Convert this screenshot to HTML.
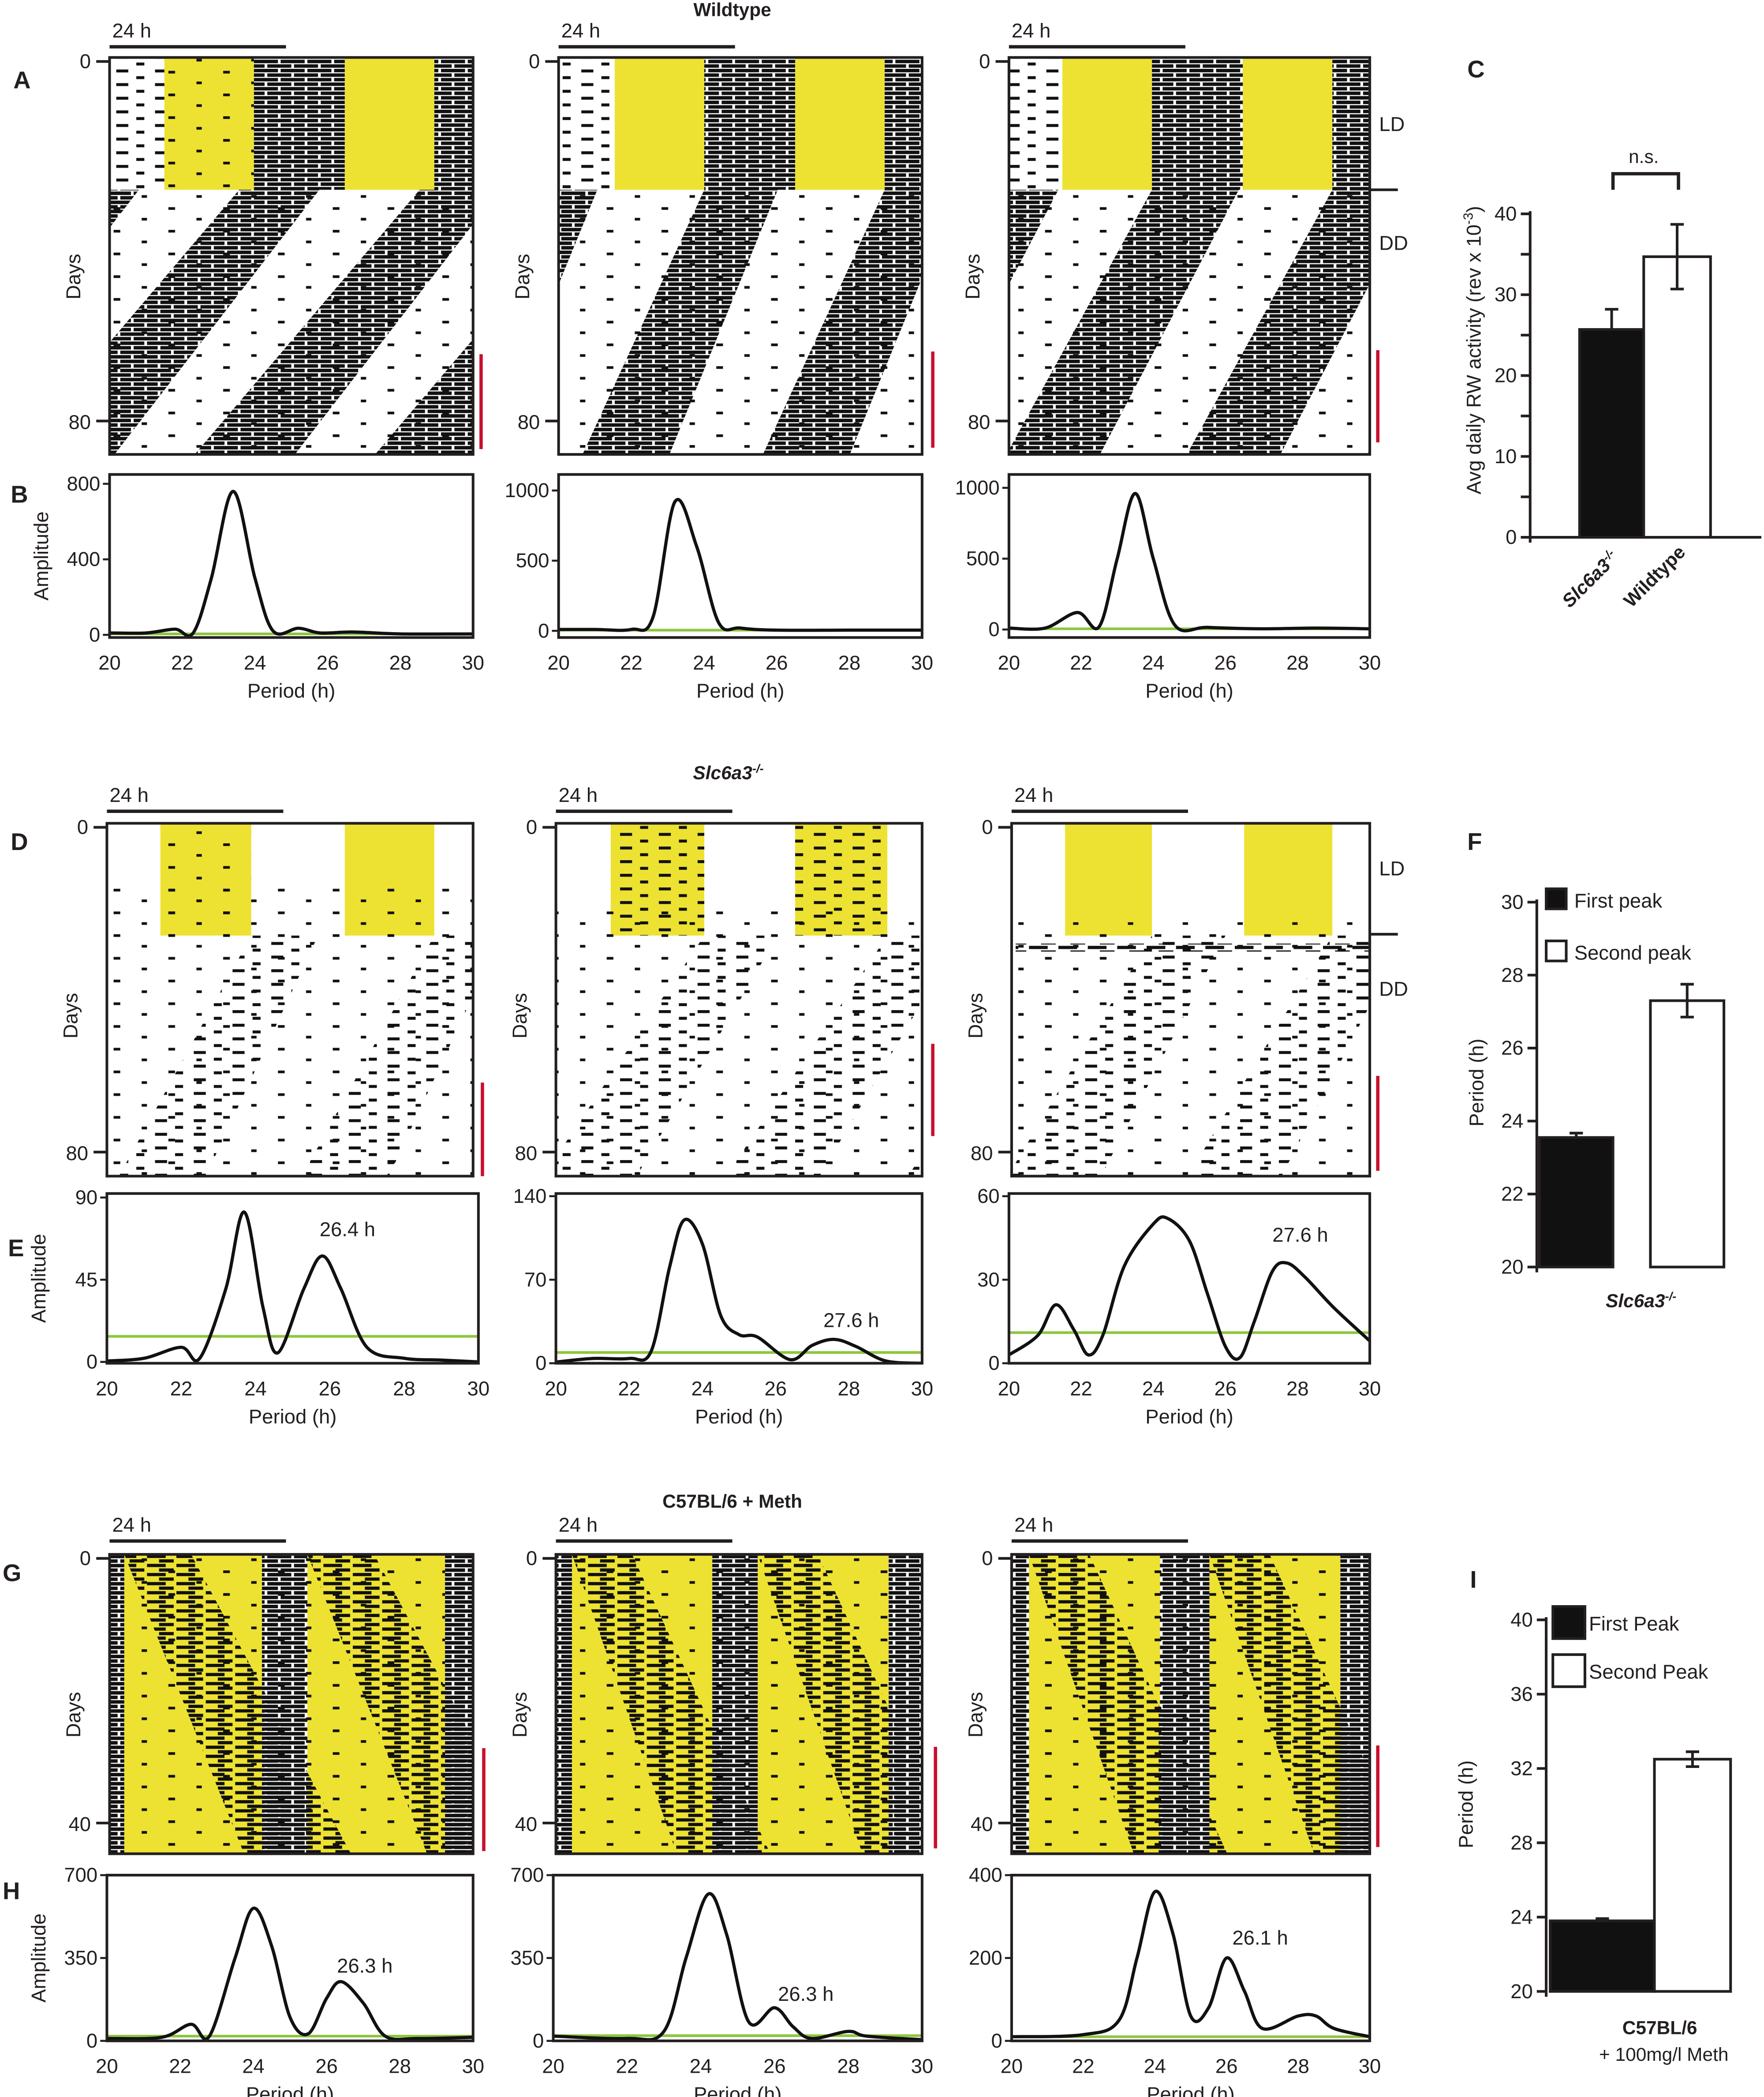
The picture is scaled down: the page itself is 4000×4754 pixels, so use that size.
<!DOCTYPE html>
<html><head><meta charset="utf-8"><style>
html,body{margin:0;padding:0;background:#fff}
svg{display:block}
text{font-family:"Liberation Sans",sans-serif;fill:#231f20}
</style></head><body>
<svg id="fig" xmlns="http://www.w3.org/2000/svg" width="4000" height="4754" viewBox="0 0 1320 1569" preserveAspectRatio="none">
<defs>
<pattern id="dense" patternUnits="userSpaceOnUse" width="20" height="6.8"><rect x="0" y="0.5" width="18" height="2.6" fill="#111"/><rect x="10" y="3.9" width="10" height="2.6" fill="#111"/><rect x="0" y="3.9" width="8" height="2.6" fill="#111"/></pattern>
<pattern id="mid" patternUnits="userSpaceOnUse" width="22" height="6.8"><rect x="0" y="0.5" width="14" height="2.4" fill="#111"/><rect x="9" y="3.9" width="11" height="2.4" fill="#111"/></pattern>
<pattern id="sparse" patternUnits="userSpaceOnUse" width="29" height="10.2"><rect x="0" y="1" width="9" height="2.2" fill="#111"/><rect x="15" y="6" width="6" height="2.2" fill="#111"/></pattern>
<pattern id="speck" patternUnits="userSpaceOnUse" width="41" height="17"><rect x="3" y="2" width="5" height="2" fill="#111"/><rect x="24" y="10" width="4" height="2" fill="#111"/></pattern>
</defs>
<g id="root"></g>
</svg>
<script>
// ---------- periodogram data (period in h, amplitude) ----------
const perB1 = [20,21,21.8,22.3,22.8,23.4,24,24.5,25.2,25.8,26.7,28,30];
const ampB1 = [10,10,30,10,300,760,300,20,35,10,15,5,5];
const perB2 = [20,21,22,22.6,23.2,23.8,24.4,25,26,28,30];
const ampB2 = [10,10,10,100,920,600,60,20,5,5,5];
const perB3 = [20,21,21.9,22.5,23,23.5,24,24.6,25.5,27,28.5,30];
const ampB3 = [10,10,120,20,500,960,500,30,15,5,10,5];
const perE1 = [20,21,22,22.5,23.2,23.7,24.2,24.6,25.3,25.8,26.3,27,28,29,30];
const ampE1 = [0.5,2,8,2,40,82,30,5,40,58,40,8,2,1,0];
const perE2 = [20,21,22,22.6,23.1,23.5,24,24.5,25,25.5,26.4,27,27.6,28.2,29,30];
const ampE2 = [1,4,4,10,80,120,100,40,24,22,3,15,20,14,2,0];
const perE3 = [20,20.8,21.3,21.8,22.2,22.6,23.2,24,24.4,25,25.5,26,26.4,26.8,27.3,27.7,28.2,29,30];
const ampE3 = [3,10,21,12,3,10,35,50,52,44,25,6,2,15,33,36,31,20,8];
const perH1 = [20,21.5,22.3,22.8,23.5,24,24.5,25,25.5,26,26.4,27,27.6,28.5,30];
const ampH1 = [10,15,70,20,350,560,400,100,30,180,250,160,20,10,15];
const perH2 = [20,22,23,23.6,24.2,24.7,25.3,26,26.5,27,28,28.5,30];
const ampH2 = [20,10,40,350,620,450,80,140,60,10,40,20,5];
const perH3 = [20,22,23,23.5,24,24.5,25,25.5,26,26.5,27,28,28.5,29,30];
const ampH3 = [10,15,50,200,360,260,60,80,200,120,30,60,60,30,10];
const sigE = [14,9,11];
const sigB = [5,5,5];
const sigH = [20,22,10];
// ---------- bar chart data ----------
const catC = ["Slc6a3-/-","Wildtype"];
const valC = [25.7,34.7];
const errC = [2.5,4.0];
const ticksC = [0,10,20,30,40];
const valF = [23.55,27.3];
const errF = [0.12,0.45];
const ticksF = [20,22,24,26,28,30];
const valI = [23.8,32.5];
const errI = [0.12,0.4];
const ticksI = [20,24,28,32,36,40];
const xTicksPer = [20,22,24,26,28,30];

const NS="http://www.w3.org/2000/svg";
const root=document.getElementById('root');
function el(tag,attrs,parent){const e=document.createElementNS(NS,tag);for(const k in attrs)e.setAttribute(k,attrs[k]);(parent||root).appendChild(e);return e;}
function txt(x,y,s,size,opts,parent){const t=el('text',Object.assign({x:x,y:y,'font-size':size},opts||{}),parent);t.textContent=s;return t;}
let clipId=0;

// ---------- actograms ----------
function actogram(name,bx,by,bw,bh,yellow,blocks,bands){
  const g=el('g',{});
  
  
  const cid='c'+(clipId++);
  const cp=el('clipPath',{id:cid},g);el('rect',{x:bx,y:by,width:bw,height:bh},cp);
  const inner=el('g',{'clip-path':'url(#'+cid+')'},g);
  el('rect',{x:bx,y:by,width:bw,height:bh,fill:'#fff'},inner);
  yellow.forEach(r=>el('rect',{x:r[0],y:r[1],width:r[2]-r[0],height:r[3]-r[1],fill:'#ede232'},inner));
  blocks.forEach(r=>el('rect',{x:r[0],y:r[1],width:r[2]-r[0],height:r[3]-r[1],fill:'url(#'+r[4]+')'},inner));
  bands.forEach(b=>{ // [x0,y0,y1,slope,w0,w1,pattern]
    const [x0,y0,y1,s,w0,w1,p]=b; const xb=x0-s*(y1-y0);
    el('polygon',{points:`${x0},${y0} ${x0+w0},${y0} ${xb+w1},${y1} ${xb},${y1}`,fill:'url(#'+p+')'},inner);
  });
  el('rect',{x:bx,y:by,width:bw,height:bh,fill:'none',stroke:'#231f20','stroke-width':2},g);
}
// Row A
actogram('actogram-a1',82,43,272,297,[[123,44,190,142],[258,44,325,142]],
 [[190,44,258,142,'dense'],[325,44,354,142,'dense'],[82,44,123,142,'sparse'],[123,44,190,142,'speck'],[82,142,354,340,'speck']],
 [[179,142,340,0.85,60,75,'dense'],[314,142,340,0.85,60,75,'dense'],[449,142,340,0.85,60,75,'dense'],[44,142,340,0.85,60,75,'dense']]);
actogram('actogram-a2',418,43,272,297,[[460,44,527,142],[595,44,662,142]],
 [[527,44,595,142,'dense'],[662,44,690,142,'dense'],[418,44,460,142,'sparse'],[418,142,690,340,'speck']],
 [[527,142,340,0.46,55,65,'dense'],[662,142,340,0.46,55,65,'dense'],[392,142,340,0.46,55,65,'dense'],[797,142,340,0.46,55,65,'dense']]);
actogram('actogram-a3',755,43,270,297,[[795,44,862,142],[930,44,997,142]],
 [[862,44,930,142,'dense'],[997,44,1025,142,'dense'],[755,44,795,142,'sparse'],[755,142,1025,340,'speck']],
 [[862,142,340,0.55,65,70,'dense'],[997,142,340,0.55,65,70,'dense'],[727,142,340,0.55,65,70,'dense'],[1132,142,340,0.55,65,70,'dense']]);
// Row D
actogram('actogram-d1',80,616,274,264,[[120,617,188,700],[258,617,325,700]],
 [[120,617,188,700,'speck'],[82,660,354,880,'speck']],
 [[188,700,880,0.55,50,65,'sparse'],[325,700,880,0.55,50,65,'sparse'],[460,700,880,0.55,50,65,'sparse']]);
actogram('actogram-d2',416,616,274,264,[[457,617,527,700],[595,617,664,700]],
 [[457,617,527,700,'sparse'],[595,617,664,700,'sparse'],[416,680,690,880,'speck']],
 [[527,700,880,0.67,55,70,'sparse'],[664,700,880,0.67,55,70,'sparse'],[800,700,880,0.67,55,70,'sparse']]);
actogram('actogram-d3',757,616,268,264,[[797,617,862,700],[931,617,997,700]],
 [[760,706,1025,712,'mid'],[757,690,1025,880,'speck']],
 [[862,700,880,0.6,55,70,'sparse'],[997,700,880,0.6,55,70,'sparse'],[1132,700,880,0.6,55,70,'sparse']]);
// Row G
actogram('actogram-g1',82,1163,272,224,[[93,1164,196,1387],[230,1164,333,1387]],
 [[82,1164,93,1387,'dense'],[196,1164,230,1387,'dense'],[333,1164,354,1387,'dense'],[93,1164,333,1387,'speck']],
 [[93,1163,1387,-0.4,50,80,'mid'],[230,1163,1387,-0.4,50,80,'mid']]);
actogram('actogram-g2',416,1163,274,224,[[428,1164,533,1387],[567,1164,665,1387]],
 [[416,1164,428,1387,'dense'],[533,1164,567,1387,'dense'],[665,1164,690,1387,'dense'],[428,1164,665,1387,'speck']],
 [[428,1163,1387,-0.35,45,70,'mid'],[567,1163,1387,-0.35,45,70,'mid']]);
actogram('actogram-g3',757,1163,268,224,[[770,1164,868,1387],[905,1164,1003,1387]],
 [[757,1164,770,1387,'dense'],[868,1164,905,1387,'dense'],[1003,1164,1025,1387,'dense'],[770,1164,1003,1387,'speck']],
 [[770,1163,1387,-0.35,45,70,'mid'],[905,1163,1387,-0.35,45,70,'mid']]);

// actogram axes decorations
function actoAxes(bx,by,bw,bh,y0lab,yEnd,endLab,barY,redX,redY0,redY1,daysY){
  const g=el('g',{});
  
  
  el('line',{x1:bx,y1:barY,x2:bx+132,y2:barY,stroke:'#231f20','stroke-width':2.5},g);
  txt(bx+2,barY-7,'24 h',15,{},g);
  el('line',{x1:bx-10,y1:by+3,x2:bx,y2:by+3,stroke:'#231f20','stroke-width':2},g);
  el('line',{x1:bx-10,y1:yEnd,x2:bx,y2:yEnd,stroke:'#231f20','stroke-width':2},g);
  txt(bx-14,by+8,y0lab,15,{'text-anchor':'end'},g);
  txt(bx-14,yEnd+6,endLab,15,{'text-anchor':'end'},g);
  txt(bx-18,daysY,'Days',15,{'text-anchor':'middle',transform:`rotate(-90 ${bx-18} ${daysY})`,dy:-4},g);
  el('line',{x1:redX,y1:redY0,x2:redX,y2:redY1,stroke:'#c8102e','stroke-width':2.5},g);
}
actoAxes(82,43,272,297,'0',315,'80',35,360,265,336,207);
actoAxes(418,43,272,297,'0',315,'80',35,698,263,335,207);
actoAxes(755,43,270,297,'0',315,'80',35,1031,262,331,207);
actoAxes(80,616,274,264,'0',862,'80',607,361,810,880,760);
actoAxes(416,616,274,264,'0',862,'80',607,698,781,850,760);
actoAxes(757,616,268,264,'0',862,'80',607,1031,805,876,760);
actoAxes(82,1163,272,224,'0',1364,'40',1153,362,1308,1385,1283);
actoAxes(416,1163,274,224,'0',1364,'40',1153,700,1307,1383,1283);
actoAxes(757,1163,268,224,'0',1364,'40',1153,1031,1306,1382,1283);

// ---------- periodograms ----------
function smoothPath(pts){
  let d=`M${pts[0][0]},${pts[0][1]}`;
  for(let i=0;i<pts.length-1;i++){
    const p0=pts[Math.max(0,i-1)],p1=pts[i],p2=pts[i+1],p3=pts[Math.min(pts.length-1,i+2)];
    const c1=[p1[0]+(p2[0]-p0[0])/6,p1[1]+(p2[1]-p0[1])/6];
    const c2=[p2[0]-(p3[0]-p1[0])/6,p2[1]-(p3[1]-p1[1])/6];
    d+=` C${c1[0]},${c1[1]} ${c2[0]},${c2[1]} ${p2[0]},${p2[1]}`;
  }
  return d;
}
function periodogram(name,bx,by,bw,bh,xl,xr,y0px,yTopPx,yMax,yTicks,pers,amps,sig,label,lx,ly,showYLab){
  const g=el('g',{});
  
  
  const X=p=>xl+(p-20)/10*(xr-xl);
  const Y=a=>y0px-(a/yMax)*(y0px-yTopPx);
  const cid='c'+(clipId++);
  const cp=el('clipPath',{id:cid},g);el('rect',{x:bx,y:by,width:bw,height:bh},cp);
  const inner=el('g',{'clip-path':'url(#'+cid+')'},g);
  const sl=el('line',{x1:bx,x2:bx+bw,y1:Y(sig),y2:Y(sig),stroke:'#8dc63f','stroke-width':2},inner);
  
  
  const pts=pers.map((p,i)=>[X(p),Y(amps[i])]);
  const c=el('path',{d:smoothPath(pts),fill:'none',stroke:'#111','stroke-width':2.4},inner);
  
  
  el('rect',{x:bx,y:by,width:bw,height:bh,fill:'none',stroke:'#231f20','stroke-width':2},g);
  yTicks.forEach(t=>{const y=Y(t);el('line',{x1:bx-5,x2:bx,y1:y,y2:y,stroke:'#231f20','stroke-width':1.5},g);txt(bx-7,y+5,String(t),15,{'text-anchor':'end'},g);});
  xTicksPer.forEach(t=>{txt(X(t),by+bh+24,String(t),15,{'text-anchor':'middle'},g);});
  txt((bx+bx+bw)/2,by+bh+45,'Period (h)',15,{'text-anchor':'middle'},g);
  if(label)txt(lx,ly,label,15,{'text-anchor':'middle'},g);
  if(showYLab){const yc=by+bh/2;txt(bx-46,yc,'Amplitude',15,{'text-anchor':'middle',transform:`rotate(-90 ${bx-46} ${yc})`},g);}
}
periodogram('periodogram-b1',82,355,272,122,82,354,475,362,800,[0,400,800],perB1,ampB1,sigB[0],'',0,0,true);
periodogram('periodogram-b2',418,355,272,122,418,690,472,367,1000,[0,500,1000],perB2,ampB2,sigB[1],'',0,0,false);
periodogram('periodogram-b3',755,355,270,122,755,1025,471,365,1000,[0,500,1000],perB3,ampB3,sigB[2],'',0,0,false);
periodogram('periodogram-e1',80,893,278,127,80,358,1019,896,90,[0,45,90],perE1,ampE1,sigE[0],'26.4 h',260,925,true);
periodogram('periodogram-e2',416,893,274,127,416,690,1020,895,140,[0,70,140],perE2,ampE2,sigE[1],'27.6 h',637,993,false);
periodogram('periodogram-e3',755,893,270,127,755,1025,1020,895,60,[0,30,60],perE3,ampE3,sigE[2],'27.6 h',973,929,false);
periodogram('periodogram-h1',80,1403,274,124,80,354,1527,1403,700,[0,350,700],perH1,ampH1,sigH[0],'26.3 h',273,1476,true);
periodogram('periodogram-h2',414,1403,276,124,414,690,1527,1403,700,[0,350,700],perH2,ampH2,sigH[1],'26.3 h',603,1497,false);
periodogram('periodogram-h3',757,1403,268,124,757,1025,1527,1403,400,[0,200,400],perH3,ampH3,sigH[2],'26.1 h',943,1455,false);

// ---------- bar charts ----------
function barChart(name,ax,y0px,yTopPx,vmin,vmax,ticks,minor,vals,errs,bars,xEnd){
  const g=el('g',{});
  
  
  const Y=v=>y0px-(v-vmin)/(vmax-vmin)*(y0px-yTopPx);
  el('line',{x1:ax,x2:ax,y1:yTopPx-2,y2:y0px+4,stroke:'#231f20','stroke-width':2},g);
  el('line',{x1:ax,x2:xEnd,y1:y0px,y2:y0px,stroke:'#231f20','stroke-width':2},g);
  ticks.forEach(t=>{const y=Y(t);el('line',{x1:ax-7,x2:ax,y1:y,y2:y,stroke:'#231f20','stroke-width':2},g);txt(ax-10,y+5,String(t),15,{'text-anchor':'end'},g);});
  if(minor)for(let i=0;i<ticks.length-1;i++){const y=Y((ticks[i]+ticks[i+1])/2);el('line',{x1:ax-7,x2:ax,y1:y,y2:y,stroke:'#231f20','stroke-width':2},g);}
  vals.forEach((v,i)=>{
    const [x1,x2,fill]=bars[i];const cx=(x1+x2)/2;
    const r=el('rect',{x:x1,y:Y(v),width:x2-x1,height:y0px-Y(v),fill:fill,stroke:'#231f20','stroke-width':2},g);
    
    
    const lo=Y(v-(fill==='#fff'?errs[i]:0)),hi=Y(v+errs[i]);
    el('line',{x1:cx,x2:cx,y1:lo,y2:hi,stroke:'#231f20','stroke-width':2},g);
    el('line',{x1:cx-5,x2:cx+5,y1:hi,y2:hi,stroke:'#231f20','stroke-width':2},g);
    if(fill==='#fff')el('line',{x1:cx-5,x2:cx+5,y1:lo,y2:lo,stroke:'#231f20','stroke-width':2},g);
  });
  return {g,Y};
}
const C=barChart('bar-chart-c',1145,402,160,0,40,ticksC,true,valC,errC,[[1182,1230,'#111'],[1230,1280,'#fff']],1318);
el('path',{d:'M1207,142 V130 H1256 V142',fill:'none',stroke:'#231f20','stroke-width':2.5},C.g);
txt(1230,122,'n.s.',14,{'text-anchor':'middle'},C.g);
(function(){const t=txt(1212,418,'',14,{'text-anchor':'end','font-weight':'bold','font-style':'italic',transform:'rotate(-45 1212 418)'},C.g);t.innerHTML='Slc6a3<tspan dy="-5" font-size="9">-/-</tspan>';})();
txt(1262,414,'Wildtype',14,{'text-anchor':'end','font-weight':'bold',transform:'rotate(-45 1262 414)'},C.g);
(function(){const t=txt(1108,262,'',15,{'text-anchor':'middle',transform:'rotate(-90 1108 262)'},C.g);t.innerHTML='Avg daily RW activity (rev x 10<tspan dy="-6" font-size="10">-3</tspan><tspan dy="6">)</tspan>';})();

const F=barChart('bar-chart-f',1150,948,675,20,30,ticksF,false,valF,errF,[[1152,1207,'#111'],[1235,1290,'#fff']],1150);
el('rect',{x:1157,y:665,width:15,height:15,fill:'#111',stroke:'#231f20','stroke-width':2},F.g);
txt(1178,679,'First peak',15,{},F.g);
el('rect',{x:1157,y:704,width:15,height:15,fill:'#fff',stroke:'#231f20','stroke-width':2},F.g);
txt(1178,718,'Second peak',15,{},F.g);
(function(){const t=txt(1228,978,'',14,{'text-anchor':'middle','font-weight':'bold','font-style':'italic'},F.g);t.innerHTML='Slc6a3<tspan dy="-5" font-size="9">-/-</tspan>';})();
txt(1110,810,'Period (h)',15,{'text-anchor':'middle',transform:'rotate(-90 1110 810)'},F.g);

const I=barChart('bar-chart-i',1157,1490,1212,20,40,ticksI,false,valI,errI,[[1160,1238,'#111'],[1238,1295,'#fff']],1157);
el('rect',{x:1162,y:1202,width:24,height:24,fill:'#111',stroke:'#231f20','stroke-width':2},I.g);
txt(1189,1220,'First Peak',15,{},I.g);
el('rect',{x:1162,y:1238,width:24,height:24,fill:'#fff',stroke:'#231f20','stroke-width':2},I.g);
txt(1189,1256,'Second Peak',15,{},I.g);
txt(1242,1522,'C57BL/6',14,{'text-anchor':'middle','font-weight':'bold'},I.g);
txt(1245,1542,'+ 100mg/l Meth',14,{'text-anchor':'middle'},I.g);
txt(1102,1350,'Period (h)',15,{'text-anchor':'middle',transform:'rotate(-90 1102 1350)'},I.g);

// ---------- panel letters & titles ----------
[['A',10,66],['B',8,376],['C',1098,58],['D',8,636],['E',6,940],['F',1098,636],['G',2,1183],['H',2,1421],['I',1100,1188]].forEach(l=>{
  const t=txt(l[1],l[2],l[0],18,{'font-weight':'bold'});
  
  
});
txt(548,12,'Wildtype',14,{'text-anchor':'middle','font-weight':'bold'});
(function(){const t=txt(545,583,'',14,{'text-anchor':'middle','font-weight':'bold','font-style':'italic'});t.innerHTML='Slc6a3<tspan dy="-5" font-size="9">-/-</tspan>';})();
txt(548,1128,'C57BL/6 + Meth',14,{'text-anchor':'middle','font-weight':'bold'});
// LD/DD markers
[[98,142,187],[655,699,745]].forEach(r=>{
  txt(1032,r[0],'LD',15,{});
  el('line',{x1:1025,x2:1046,y1:r[1],y2:r[1],stroke:'#231f20','stroke-width':2});
  txt(1032,r[2],'DD',15,{});
});
</script>
</body></html>
